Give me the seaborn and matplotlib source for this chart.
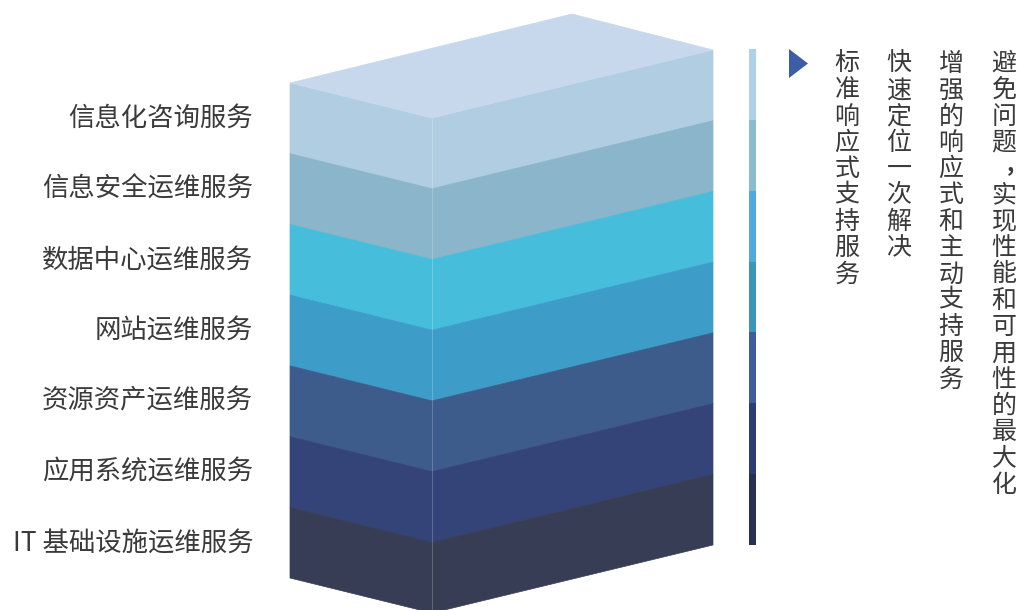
import numpy as np
import matplotlib
matplotlib.use("Agg")
import matplotlib.pyplot as plt
from matplotlib.patches import Polygon
from matplotlib.colors import ListedColormap
import seaborn as sns

# ---------------- data ----------------
layer_labels = ["信息化咨询服务", "信息安全运维服务", "数据中心运维服务", "网站运维服务",
                "资源资产运维服务", "应用系统运维服务", "IT 基础设施运维服务"]
layer_values = [1, 1, 1, 1, 1, 1, 1]
layer_colors = ["#b0cde2", "#8ab5ca", "#46bedb", "#3d9cc8", "#3d5c8c", "#344478", "#363d55"]
top_color = "#c8d8ec"
bar_colors = ["#aed0e8", "#8bbccd", "#52a9dc", "#3b96b8", "#3f5d9b", "#2d3d72", "#283152"]
right_texts = ["标准响应式支持服务", "快速定位一次解决",
               "增强的响应式和主动支持服务", "避免问题，实现性能和可用性的最大化"]

# ---------------- style ----------------
sns.set_theme(style="white")
plt.rcParams["font.family"] = ["Noto Sans CJK SC", "DejaVu Sans"]
text_color = "#3a3a3a"

W, H = 1021, 610
fig = plt.figure(figsize=(W / 100, H / 100), dpi=100)
ax = fig.add_axes([0, 0, 1, 1])
ax.set_xlim(0, W)
ax.set_ylim(H, 0)
ax.axis("off")

# block layout (pixel space)
xl, xf, xr, xb = 290, 432, 713, 572   # left edge, front edge, right edge, back apex
yl, yf, yr, yb = 83, 118, 50, 14      # top y of left / front / right corners, back apex
block_h = 495
cum = np.concatenate([[0], np.cumsum(layer_values)]) / np.sum(layer_values) * block_h

for i, col in enumerate(layer_colors):
    t0, t1 = cum[i], cum[i + 1]
    ax.add_patch(Polygon([(xl, yl + t0), (xf, yf + t0), (xf, yf + t1), (xl, yl + t1)],
                         closed=True, facecolor=col, edgecolor=col, lw=0.5))
    ax.add_patch(Polygon([(xf, yf + t0), (xr, yr + t0), (xr, yr + t1), (xf, yf + t1)],
                         closed=True, facecolor=col, edgecolor=col, lw=0.5))
    # label at the middle of the left edge of the layer
    ax.text(253, yl + (t0 + t1) / 2, layer_labels[i], ha="right", va="center",
            fontsize=19, color=text_color)

# top face
ax.add_patch(Polygon([(xl, yl), (xb, yb), (xr, yr), (xf, yf)], closed=True,
                     facecolor=top_color, edgecolor=top_color, lw=0.5))
# subtle front edge line
ax.plot([xf, xf], [yf, yf + block_h], color="white", lw=0.6, alpha=0.25)

# vertical colored bar (seaborn heatmap)
bx0, bx1, by0, by1 = 749, 756, 49, 545
ax_bar = fig.add_axes([bx0 / W, 1 - by1 / H, (bx1 - bx0) / W, (by1 - by0) / H])
sns.heatmap(np.arange(len(bar_colors)).reshape(-1, 1), cmap=ListedColormap(bar_colors),
            cbar=False, ax=ax_bar, xticklabels=False, yticklabels=False)
ax_bar.axis("off")

# triangle marker
ax.add_patch(Polygon([(789, 49), (808, 63.5), (789, 78)], closed=True,
                     facecolor="#3b5ea6", edgecolor="none"))

# vertical text columns
col_x = [847, 899, 951, 1004]
step = 26.3
y_start = 64
for x, txt in zip(col_x, right_texts):
    for k, ch in enumerate(txt):
        y = y_start + k * step
        if ch == "，":
            ax.text(x + 6, y - 6, ",", ha="center", va="center", fontsize=16,
                    fontweight="bold", color=text_color)
        else:
            ax.text(x, y, ch, ha="center", va="center", fontsize=18, color=text_color)

fig.savefig("out.png", dpi=100, facecolor="white")
